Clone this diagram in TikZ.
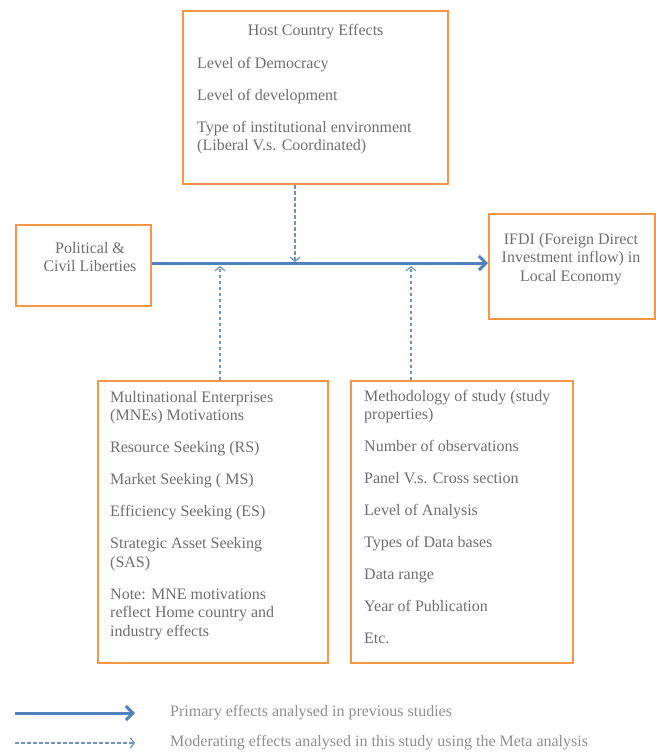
\documentclass[tikz,border=0pt]{standalone}
\usepackage{fontspec}
\setmainfont{Liberation Serif}
\usetikzlibrary{arrows.meta}
\definecolor{boxorange}{HTML}{F79646}
\definecolor{mainblue}{HTML}{4F81BD}
\definecolor{dashblue}{HTML}{6F92C4}
\definecolor{txtgray}{HTML}{6E6E6E}
\definecolor{leggray}{HTML}{8E8E8E}
\begin{document}
\begin{tikzpicture}[
  x=1pt, y=-1pt,
  box/.style={draw=boxorange, line width=2.2pt, rectangle, anchor=north west, inner sep=0pt},
  txt/.style={text=txtgray, inner sep=0pt, align=left, font=\fontsize{16}{18.5}\selectfont},
  primary/.style={draw=mainblue, line width=3pt, -{Straight Barb[length=7pt, width=14pt, line width=3pt]}},
  moderating/.style={draw=dashblue, line width=1.2pt, dash pattern=on 3.5pt off 2.5pt, -{Straight Barb[length=4pt, width=10pt]}}
]
\useasboundingbox (0,0) rectangle (656,753);

% boxes
\node[box, minimum width=265, minimum height=173] (host) at (182,10) {};
\node[box, minimum width=135, minimum height=81] (pol) at (15,224) {};
\node[box, minimum width=166, minimum height=105] (ifdi) at (488,213) {};
\node[box, minimum width=230, minimum height=282] (mne) at (97,380) {};
\node[box, minimum width=222, minimum height=282] (meth) at (350,380) {};

% texts
\node[txt] (hosttitle) at ([yshift=-22pt]host.north) {Host Country Effects};
\node[txt, anchor=north west] (hostlist) at (197,57) {Level of Democracy\\[13.5pt]
  Level of development\\[13.5pt]
  Type of institutional environment\\
  (Liberal V.s. Coordinated)};
\node[txt, align=center] (poltxt) at (90,257) {Political \&\\Civil Liberties};
\node[txt, align=center] (ifditxt) at (571,259) {IFDI (Foreign Direct\\Investment inflow) in\\Local Economy};
\node[txt, anchor=north west] (mnelist) at (110,391) {Multinational Enterprises\\
  (MNEs) Motivations\\[13.5pt]
  Resource Seeking (RS)\\[13.5pt]
  Market Seeking ( MS)\\[13.5pt]
  Efficiency Seeking (ES)\\[13.5pt]
  Strategic Asset Seeking\\
  (SAS)\\[13.5pt]
  Note: MNE motivations\\
  reflect Home country and\\
  industry effects};
\node[txt, anchor=north west] (methlist) at (364,390) {Methodology of study (study\\
  properties)\\[13.5pt]
  Number of observations\\[13.5pt]
  Panel V.s. Cross section\\[13.5pt]
  Level of Analysis\\[13.5pt]
  Types of Data bases\\[13.5pt]
  Data range\\[13.5pt]
  Year of Publication\\[13.5pt]
  Etc.};

% main effect
\coordinate (hostin) at (295,262);
\coordinate (mnein) at (220,266);
\coordinate (methin) at (411,266);
\draw[primary] (pol.east |- 0,263) -- (ifdi.west |- 0,263);
\draw[moderating] (hostin |- host.south) -- (hostin);
\draw[moderating] (mnein |- mne.north) -- (mnein);
\draw[moderating] (methin |- meth.north) -- (methin);

% legend
\coordinate (prima) at (15,713);
\coordinate (primb) at (135,713);
\coordinate (moda) at (15,743);
\coordinate (modb) at (135,743);
\draw[primary] (prima) -- (primb);
\draw[moderating] (moda) -- (modb);
\node[txt, text=leggray, anchor=west] (primtxt) at (170,713) {Primary effects analysed in previous studies};
\node[txt, text=leggray, anchor=west] (modtxt) at (170,743) {Moderating effects analysed in this study using the Meta analysis};
\end{tikzpicture}
\end{document}
